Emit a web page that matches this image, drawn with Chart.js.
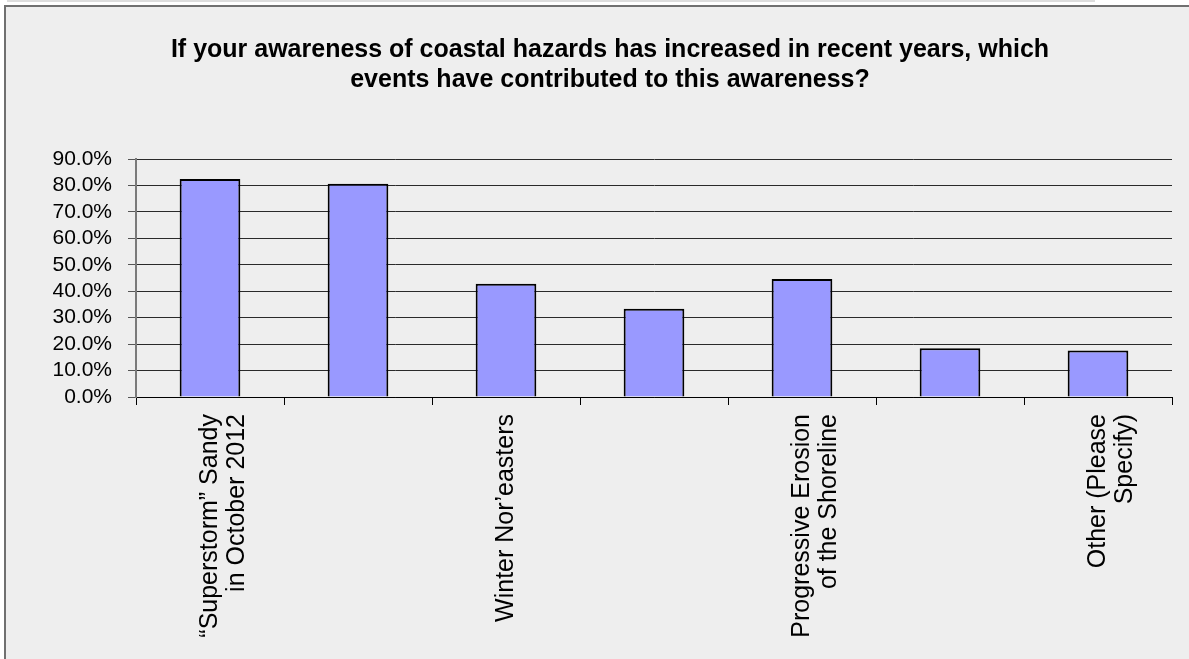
<!DOCTYPE html>
<html>
<head>
<meta charset="utf-8">
<script src="https://cdn.jsdelivr.net/npm/chart.js@4"></script>
<style>
  html, body { margin: 0; padding: 0; background: #ffffff; overflow: hidden; }
  .topstrip { position: absolute; left: 7px; top: 0; width: 1088px; height: 2px; background: #dddddd; }
  .frame {
    position: absolute; left: 4px; top: 5px; width: 1185px; height: 654px;
    border-left: 2px solid #707070; border-top: 2px solid #707070;
    background: #eeeeee;
  }
  #awarenessChart { display: block; }
</style>
</head>
<body>
<div class="topstrip"></div>
<div class="frame">
  <canvas id="awarenessChart" width="1183" height="652"></canvas>
</div>
<script>
// survey answers (only every other label is shown in the original)
const categories = [
  ["\u201cSuperstorm\u201d Sandy", "in October 2012"],
  "",
  "Winter Nor\u2019easters",
  "",
  ["Progressive Erosion", "of the Shoreline"],
  "",
  ["Other (Please", "Specify)"],
];
const percentValues = [82.4, 80.6, 42.8, 33.4, 44.6, 18.4, 17.6];
const yTicks = [0, 10, 20, 30, 40, 50, 60, 70, 80, 90];
const titleLines = [
  "If your awareness of coastal hazards has increased in recent years, which",
  "events have contributed to this awareness?",
];

const fontFamily = "'Liberation Sans', Arial, sans-serif";

const ctx = document.getElementById("awarenessChart").getContext("2d");
new Chart(ctx, {
  type: "bar",
  data: {
    labels: categories,
    datasets: [
      {
        data: percentValues,
        backgroundColor: "#9999ff",
        borderColor: "#000000",
        borderWidth: 2,
        barPercentage: 0.41,
        categoryPercentage: 1,
      },
    ],
  },
  options: {
    responsive: false,
    animation: false,
    layout: { padding: { left: 42, right: 17, top: 0, bottom: 0 } },
    plugins: {
      legend: { display: false },
      tooltip: { enabled: false },
      title: {
        display: true,
        text: titleLines,
        color: "#000000",
        font: { family: fontFamily, size: 25, weight: "bold", lineHeight: 1.2 },
        padding: { top: 28, bottom: 64 },
      },
    },
    scales: {
      x: {
        offset: true,
        grid: {
          offset: true,
          drawOnChartArea: false,
          drawTicks: true,
          tickLength: 8,
          tickColor: "#000000",
        },
        border: { color: "#000000", width: 1 },
        ticks: {
          autoSkip: false,
          maxRotation: 90,
          minRotation: 90,
          padding: 9,
          color: "#000000",
          font: { family: fontFamily, size: 25, lineHeight: 1.1 },
        },
        afterFit(scale) {
          scale.height = 262;
        },
      },
      y: {
        min: 0,
        max: 90,
        afterBuildTicks(scale) {
          scale.ticks = yTicks.map((v) => ({ value: v }));
        },
        grid: {
          color: "#2a2a2a",
          lineWidth: 1,
          tickLength: 8,
          tickColor: "#555555",
        },
        border: { color: "#7a7a7a", width: 2 },
        ticks: {
          autoSkip: false,
          padding: 16,
          color: "#000000",
          font: { family: fontFamily, size: 21 },
          callback: (v) => v.toFixed(1) + "%",
        },
        afterFit(scale) {
          scale.width = 88;
        },
      },
    },
  },
});
</script>
</body>
</html>
